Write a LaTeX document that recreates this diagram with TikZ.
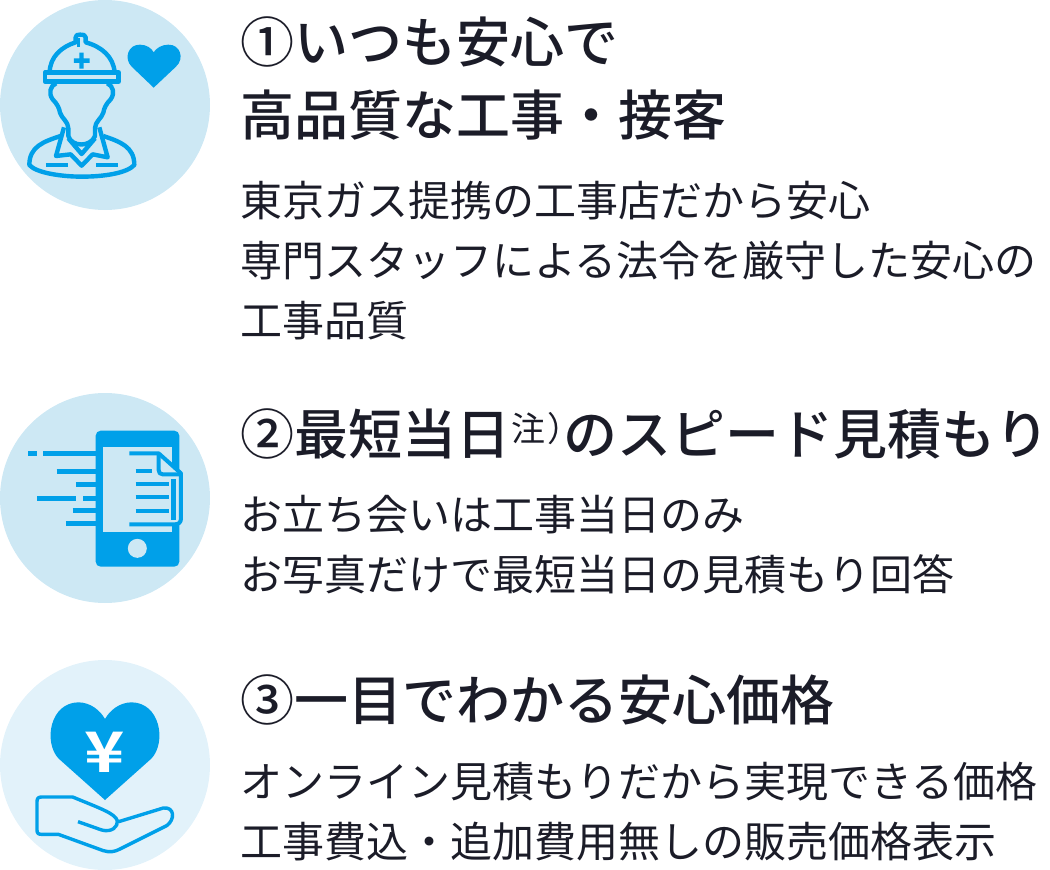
\documentclass[tikz,border=0pt]{standalone}
\usepackage{fontspec}
\setmainfont{Noto Sans CJK JP}
\newfontfamily\medfont{Noto Sans CJK JP Medium}
\newfontfamily\yenfont{Noto Sans CJK JP Bold}
\definecolor{cblue}{HTML}{00A0E9}
\definecolor{cpale}{HTML}{CDE8F4}
\definecolor{cpaler}{HTML}{E2F2FA}
\definecolor{ctext}{HTML}{1B1C28}
\tikzset{
  head/.style={anchor=base west,inner sep=0pt,text=ctext,font=\medfont\fontsize{54}{60}\selectfont},
  body/.style={anchor=base west,inner sep=0pt,text=ctext,font=\fontsize{42}{50}\selectfont},
  note/.style={anchor=base west,inner sep=0pt,text=ctext,font=\fontsize{34}{36}\selectfont},
  disc/.style={circle,inner sep=0pt,minimum size=210pt},
  ico/.style={draw=cblue,line width=4.4pt,line join=round,line cap=butt},
}
\begin{document}
\begin{tikzpicture}[x=1pt,y=-1pt]
\useasboundingbox (0,0) rectangle (1050,870);
\node[disc,fill=cpale] (d1) at (105,105) {};
\node[disc,fill=cpale] (d2) at (105,498) {};
\node[disc,fill=cpaler] (d3) at (105,765) {};
% icon 1
\begin{scope}[x=0.33333pt,y=-0.33333pt]
\draw[ico] (149,217) .. controls (150,170) and (185,140) .. (227,127) -- (227,112) .. controls (227,105) and (232,104) .. (240,104) .. controls (250,104) and (257,105) .. (257,112) -- (257,127) .. controls (305,140) and (340,170) .. (344,217);
\draw[ico] (135,217) rectangle (356,245);
\draw[ico,line width=3.6pt] (236,113) -- (236,140);
\fill[cblue] (238,158) rectangle (251,206) (222,175) rectangle (269,189);
\draw[ico] (168,250) .. controls (150,258) and (145,280) .. (158,298) .. controls (172,312) and (178,325) .. (180,338) .. controls (185,355) and (205,365) .. (205,385) -- (205,408) .. controls (215,442) and (272,442) .. (285,408) -- (285,385) .. controls (285,365) and (305,355) .. (310,338) .. controls (312,325) and (318,312) .. (332,298) .. controls (345,280) and (340,258) .. (322,250);
\draw[ico] (192,382) -- (168,468) -- (212,463) -- (245,497) -- (278,463) -- (323,472) -- (298,382);
\draw[ico] (205,415) -- (245,462) -- (285,415);
\draw[ico] (182,408) .. controls (130,425) and (88,440) .. (88,495) .. controls (110,520) and (190,530) .. (245,530) .. controls (310,530) and (380,520) .. (403,495) .. controls (403,440) and (360,425) .. (310,408);
\draw[ico,line width=3.6pt] (138,495) -- (203,495) (288,495) -- (353,495);
\fill[cblue] (461,263) -- (395,200) .. controls (370,175) and (385,133) .. (420,134) .. controls (440,134) and (455,145) .. (461,157) .. controls (468,145) and (485,134) .. (505,134) .. controls (540,133) and (555,175) .. (528,200) -- cycle;
\end{scope}
% icon 2
\begin{scope}[shift={(0,385)},x=0.33333pt,y=-0.33333pt]
\fill[cblue,rounded corners=5pt] (287,137) rectangle (538,545);
\fill[cpale] (310,185) rectangle (515,442);
\fill[cpale] (412,490) circle [radius=9.5pt];
\draw[cblue,line width=5pt] (85,205) -- (112,205) (130,205) -- (287,205) (170,259) -- (287,259) (228,298) -- (287,298) (112,341) -- (228,341) (250,341) -- (287,341) (218,377) -- (287,377) (198,416) -- (287,416);
\fill[cpale] (388,205) -- (478,205) -- (545,265) -- (545,400) .. controls (545,412) and (538,418) .. (525,418) -- (388,418) -- cycle;
\draw[ico,line width=4pt] (388,205) -- (476,205) -- (543,265) -- (543,400) .. controls (543,412) and (536,418) .. (525,418) -- (388,418);
\draw[ico,line width=4pt] (476,205) -- (476,255) .. controls (476,263) and (480,268) .. (488,268) -- (543,268);
\draw[cblue,line width=4pt] (407,259) -- (455,259) (407,298) -- (508,298) (407,337) -- (508,337) (407,377) -- (508,377);
\fill[cblue] (514,282) rectangle (527,405);
\end{scope}
% icon 3
\begin{scope}[shift={(0,650)},x=0.33333pt,y=-0.33333pt]
\fill[cblue] (315,450) -- (175,325) .. controls (130,275) and (150,158) .. (235,157) .. controls (270,157) and (300,180) .. (315,207) .. controls (330,180) and (360,157) .. (395,157) .. controls (480,158) and (500,275) .. (455,325) -- cycle;
\node[inner sep=0pt,text=white,xscale=1.22,transform shape,font=\yenfont\fontsize{56}{60}\selectfont] (yen) at (315,308) {¥};
\draw[ico,line width=3.4pt] (234,515) -- (305,540) .. controls (335,548) and (355,530) .. (352,512) .. controls (345,490) and (300,475) .. (218,441) -- (125,441) .. controls (115,441) and (111,445) .. (111,455) -- (111,540) .. controls (111,550) and (115,553) .. (125,553) -- (175,553) -- (310,602) .. controls (330,608) and (345,605) .. (360,597) -- (500,527) .. controls (525,510) and (525,470) .. (490,474) -- (356,515);
\end{scope}
% text
\node[head] (t1a) at (240,62) {①いつも安心で};
\node[head] (t1b) at (240,135) {高品質な工事・接客};
\node[body] (b1a) at (240,216) {東京ガス提携の工事店だから安心};
\node[body] (b1b) at (240,276) {専門スタッフによる法令を厳守した安心の};
\node[body] (b1c) at (240,336) {工事品質};
\node[head] (t2a) at (240,454) {②最短当日};
\node[note] (t2n) at (511,441) {注\makebox[17pt][l]{\hspace{2pt}）}};
\node[head] (t2b) at (563,454) {のスピード見積もり};
\node[body] (b2a) at (240,530) {お立ち会いは工事当日のみ};
\node[body] (b2b) at (240,590) {お写真だけで最短当日の見積もり回答};
\node[head] (t3a) at (240,720) {③一目でわかる安心価格};
\node[body] (b3a) at (240,797) {オンライン見積もりだから実現できる価格};
\node[body] (b3b) at (240,857) {工事費込・追加費用無しの販売価格表示};
\end{tikzpicture}
\end{document}
